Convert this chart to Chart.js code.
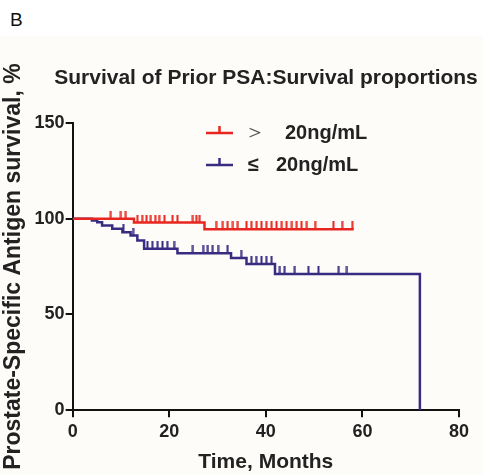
<!DOCTYPE html>
<html>
<head>
<meta charset="utf-8">
<script src="https://cdn.jsdelivr.net/npm/chart.js@4.4.1/dist/chart.umd.min.js"></script>
<style>
  html, body { margin: 0; padding: 0; background: #ffffff; }
  #wrap { position: relative; width: 483px; height: 475px; }
  #panel { position: absolute; left: 0; top: 36px; width: 483px; height: 439px; background: #fdfcf8; }
  #letter { position: absolute; left: 10px; top: 9px; font: 19px "Liberation Sans", Arial, sans-serif; color: #111; }
  canvas { position: absolute; left: 0; top: 0; }
</style>
</head>
<body>
<div id="wrap">
  <div id="panel"></div>
  <div id="letter">B</div>
  <canvas id="kmChart" width="483" height="475"></canvas>
</div>
<script>
// Kaplan-Meier steps: [month, survival %]
const highMonths = [0, 12.7, 27.3, 58.2];
const highSurvival = [100, 98, 94.5, 94.5];
const highCensorMonths = [7.9, 10, 11, 13.4, 14.4, 15.3, 16.2, 17.1, 17.9, 19, 20.7, 21.7, 24.9, 25.6, 26.3,
  29.7, 31.1, 32.1, 33.2, 34.2, 36, 37, 38.1, 39.1, 40.1, 41.2, 42.2, 43.3, 44.3, 45.4, 46.4, 47.4, 48.5,
  50.2, 54, 55.8, 57.9];

const lowMonths = [0, 4.0, 5.1, 6.1, 8.2, 10.3, 12.0, 13.4, 14.8, 21.7, 32.8, 36, 41.9, 71.9, 71.9];
const lowSurvival = [100, 99.1, 98.1, 96.5, 94.8, 93.0, 91.2, 88.6, 84.3, 82.0, 79.5, 76.4, 71.2, 71.2, 0];
const lowCensorMonths = [10.5, 12.5, 15.5, 16.5, 17.6, 18.6, 19.6, 21, 24.9, 27, 28, 29, 30.1, 32.1,
  34.9, 37, 38, 39.1, 40.1, 41.2, 42.9, 43.9, 46, 48.8, 50.9, 55.1, 56.8];

const xTicks = [0, 20, 40, 60, 80];
const yTicks = [0, 50, 100, 150];

const titleText = "Survival of Prior PSA:Survival proportions";
const redColor = "#e8261f";
const blueColor = "#372b82";

function levelAt(months, survival, t) {
  let s = survival[0];
  for (let i = 0; i < months.length; i++) {
    if (months[i] <= t) s = survival[i];
  }
  return s;
}

function censorMark(color) {
  const c = document.createElement("canvas");
  c.width = 3;
  c.height = 16;
  const g = c.getContext("2d");
  g.fillStyle = color;
  g.fillRect(0.5, 0, 2, 8);
  return c;
}

const redTick = censorMark(redColor);
const blueTick = censorMark(blueColor);

// title + legend drawn by hand so they can sit where the original puts them
const labelsPlugin = {
  id: "kmLabels",
  afterDraw(chart) {
    const ctx = chart.ctx;
    ctx.save();
    ctx.fillStyle = "#222";
    ctx.textBaseline = "middle";
    ctx.textAlign = "center";
    ctx.font = "bold 21px 'Liberation Sans'";
    ctx.fillText(titleText, 266, 78);

    ctx.textAlign = "left";
    const items = [
      { color: redColor, sym: ">", text: "20ng/mL", y: 133 },
      { color: blueColor, sym: "≤", text: "20ng/mL", y: 165 }
    ];
    items.forEach(it => {
      ctx.strokeStyle = it.color;
      ctx.lineWidth = 2.5;
      ctx.beginPath();
      ctx.moveTo(206, it.y);
      ctx.lineTo(233, it.y);
      ctx.moveTo(219.5, it.y);
      ctx.lineTo(219.5, it.y - 7);
      ctx.stroke();
      ctx.fillStyle = "#222";
      if (it.sym === ">") {
        ctx.font = "22px 'DejaVu Sans'";
        ctx.fillStyle = "#555";
        ctx.fillText("＞", 244, it.y);
        ctx.fillStyle = "#222";
        ctx.font = "bold 20px 'Liberation Sans'";
        ctx.fillText(it.text, 285, it.y);
      } else {
        ctx.font = "bold 20px 'Liberation Sans'";
        ctx.fillText(it.sym, 248, it.y);
        ctx.fillText(it.text, 276, it.y);
      }
    });
    ctx.restore();
  }
};

new Chart(document.getElementById("kmChart"), {
  type: "line",
  data: {
    datasets: [
      {
        label: "> 20ng/mL",
        data: highMonths.map((m, i) => ({ x: m, y: highSurvival[i] })),
        borderColor: redColor,
        borderWidth: 2.5,
        stepped: "before",
        pointRadius: 0
      },
      {
        label: "≤ 20ng/mL",
        data: lowMonths.map((m, i) => ({ x: m, y: lowSurvival[i] })),
        borderColor: blueColor,
        borderWidth: 2.5,
        stepped: "before",
        pointRadius: 0
      },
      {
        type: "scatter",
        data: highCensorMonths.map(m => ({ x: m, y: levelAt(highMonths, highSurvival, m) })),
        pointStyle: redTick,
        showLine: false
      },
      {
        type: "scatter",
        data: lowCensorMonths.map(m => ({ x: m, y: levelAt(lowMonths, lowSurvival, m) })),
        pointStyle: blueTick,
        showLine: false
      }
    ]
  },
  options: {
    responsive: false,
    animation: false,
    layout: { padding: { left: 0, right: 24, top: 123, bottom: 0 } },
    plugins: {
      legend: { display: false },
      tooltip: { enabled: false }
    },
    scales: {
      x: {
        type: "linear",
        min: 0,
        max: 80,
        afterBuildTicks: axis => { axis.ticks = xTicks.map(v => ({ value: v })); },
        border: { color: "#111", width: 2 },
        grid: { drawOnChartArea: false, color: "#111", tickLength: 7, lineWidth: 2 },
        ticks: { color: "#222", font: { family: "'Liberation Sans'", size: 18, weight: "bold" }, padding: 4 },
        title: {
          display: true,
          text: "Time, Months",
          color: "#222",
          font: { family: "'Liberation Sans'", size: 21, weight: "bold" },
          padding: { top: 3, bottom: 0 }
        }
      },
      y: {
        min: 0,
        max: 150,
        afterBuildTicks: axis => { axis.ticks = yTicks.map(v => ({ value: v })); },
        border: { color: "#111", width: 2 },
        grid: { drawOnChartArea: false, color: "#111", tickLength: 7, lineWidth: 2 },
        ticks: { color: "#222", font: { family: "'Liberation Sans'", size: 18, weight: "bold" }, padding: 1 },
        title: {
          display: true,
          text: "Prostate-Specific Antigen survival, %",
          color: "#222",
          font: { family: "'Liberation Sans'", size: 23, weight: "bold" },
          padding: { top: 0, bottom: 6 }
        }
      }
    }
  },
  plugins: [labelsPlugin]
});
</script>
</body>
</html>
